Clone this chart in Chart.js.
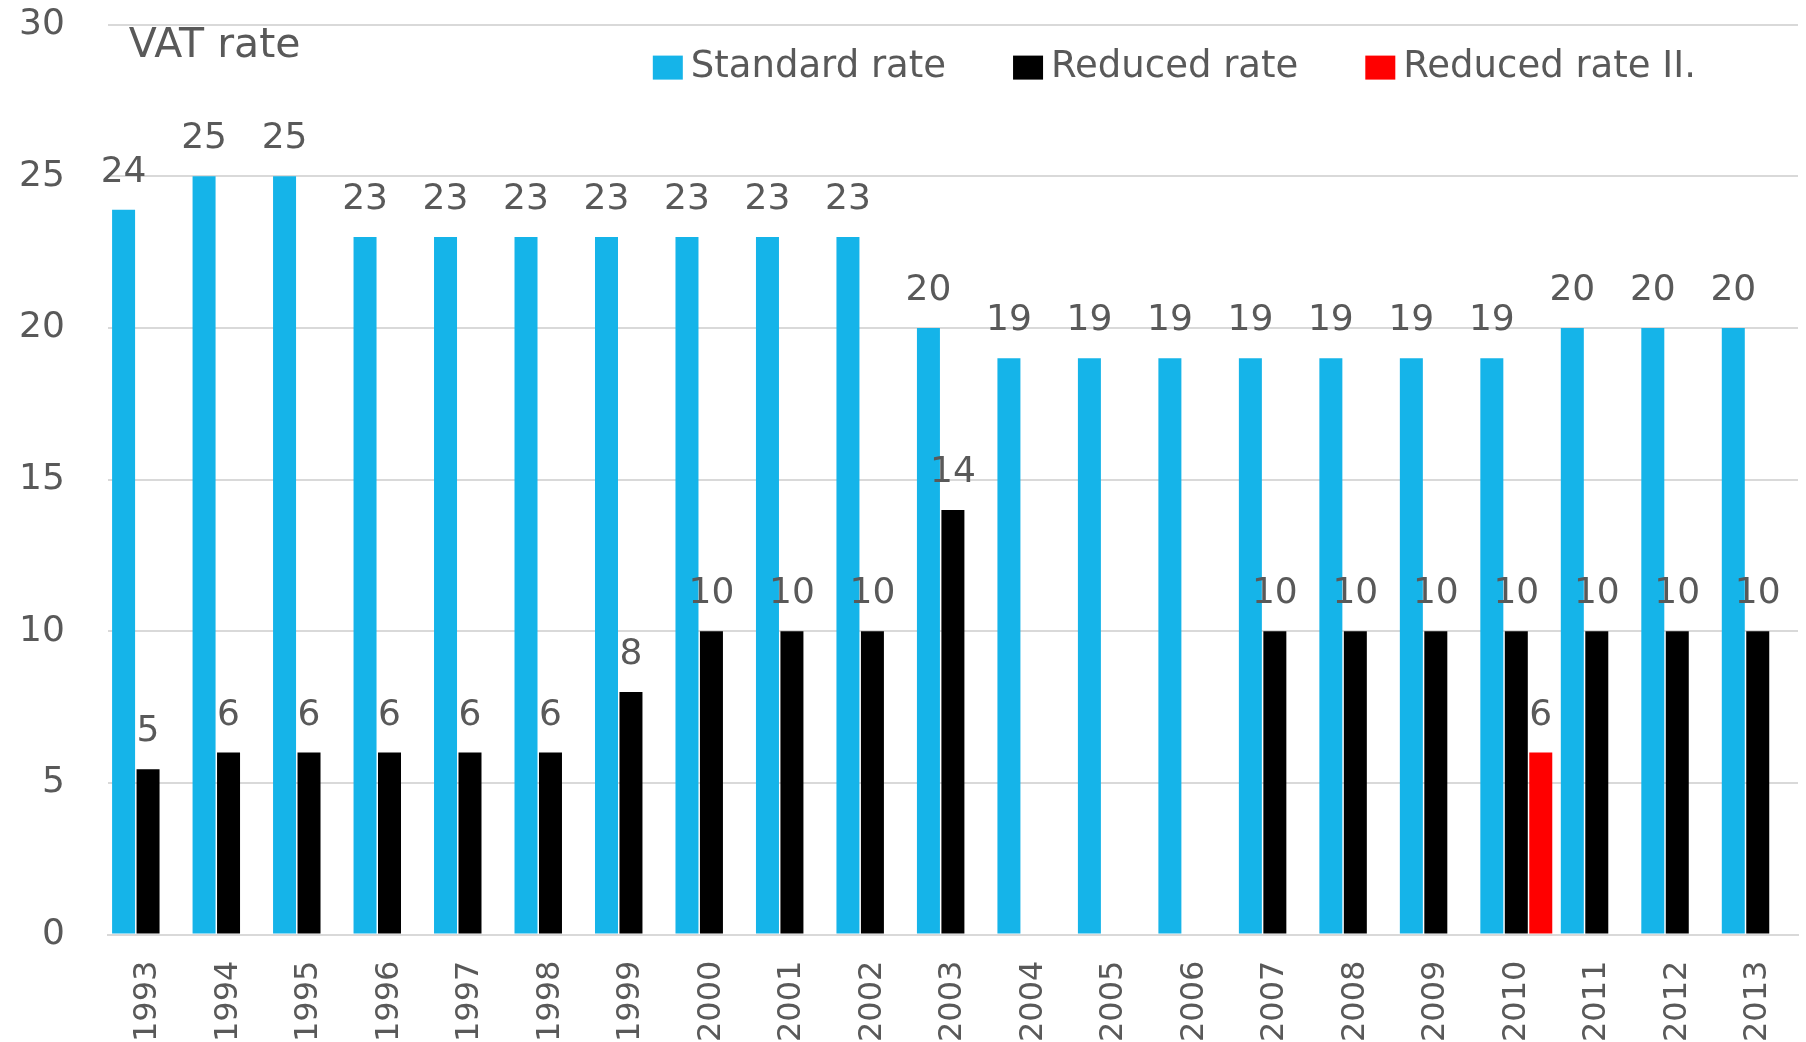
<!DOCTYPE html>
<html>
<head>
<meta charset="utf-8">
<title>VAT rate</title>
<script src="https://cdn.jsdelivr.net/npm/chart.js@4.4.1/dist/chart.umd.min.js"></script>
<style>
  html, body { margin: 0; padding: 0; background: #fff; overflow: hidden; }
</style>
</head>
<body>
<canvas id="vat-chart" width="1806" height="1042"></canvas>
<script>
// years on the x axis
const years = ["1993", "1994", "1995", "1996", "1997", "1998", "1999", "2000", "2001", "2002",
               "2003", "2004", "2005", "2006", "2007", "2008", "2009", "2010", "2011", "2012", "2013"];

// rates (null = no bar that year)
const standardRate = [23.9, 25, 25, 23, 23, 23, 23, 23, 23, 23, 20, 19, 19, 19, 19, 19, 19, 19, 20, 20, 20];
const reducedRate = [5.45, 6, 6, 6, 6, 6, 8, 10, 10, 10, 14, null, null, null, 10, 10, 10, 10, 10, 10, 10];
const reducedRate2 = [null, null, null, null, null, null, null, null, null, null, null,
                      null, null, null, null, null, null, 6, null, null, null];

const yTicks = [0, 5, 10, 15, 20, 25, 30];

const textGray = "#595959";
const gridGray = "#d9d9d9";
const fontName = "'DejaVu Sans', sans-serif";

//value labels above each bar, the "VAT rate" title and the legend inside the plot
const overlayPlugin = {
    id: "overlay",
    afterDatasetsDraw(chart) {
        const ctx = chart.ctx;
        const area = chart.chartArea;
        ctx.save();

        //numbers above the bars
        ctx.fillStyle = textGray;
        ctx.font = "36px " + fontName;
        ctx.textAlign = "center";
        ctx.textBaseline = "alphabetic";
        chart.data.datasets.forEach((ds, i) => {
            const meta = chart.getDatasetMeta(i);
            meta.data.forEach((bar, j) => {
                const v = ds.data[j];
                if (v === null || v === undefined) return;
                ctx.fillText(Math.round(v), bar.x, bar.y - 28);
            });
        });

        //axis title in the top left corner
        ctx.textAlign = "left";
        ctx.textBaseline = "top";
        ctx.font = "41px " + fontName;
        ctx.fillText("VAT rate", area.left + 21, area.top + 1);

        //legend
        ctx.font = "37px " + fontName;
        ctx.textBaseline = "middle";
        let x = area.left + 545;
        const cy = area.top + 43;
        chart.data.datasets.forEach(ds => {
            ctx.fillStyle = ds.backgroundColor;
            ctx.fillRect(x, cy - 12, 30, 24);
            x += 38;
            ctx.fillStyle = textGray;
            ctx.fillText(ds.label, x, cy);
            x += ctx.measureText(ds.label).width + 67;
        });

        ctx.restore();
    }
};

new Chart("vat-chart", {
    type: "bar",
    data: {
        labels: years,
        datasets: [
            { label: "Standard rate", data: standardRate, backgroundColor: "#15b4e9" },
            { label: "Reduced rate", data: reducedRate, backgroundColor: "#000000" },
            { label: "Reduced rate II.", data: reducedRate2, backgroundColor: "#ff0000" }
        ]
    },
    options: {
        responsive: false,
        animation: false,
        devicePixelRatio: 1,
        categoryPercentage: 0.912,
        barPercentage: 0.94,
        layout: {
            padding: { left: 16, right: 8, top: 23, bottom: 0 }
        },
        plugins: {
            legend: { display: false },
            tooltip: { enabled: false }
        },
        scales: {
            x: {
                //tick marks are invisible, they only make the gap under the axis
                grid: { display: true, drawOnChartArea: false, drawTicks: true, tickLength: 26, tickColor: "rgba(0,0,0,0)" },
                border: { display: true, color: gridGray, width: 2 },
                ticks: {
                    color: textGray,
                    font: { family: fontName, size: 32 },
                    minRotation: 90,
                    maxRotation: 90,
                    autoSkip: false,
                    padding: 0
                }
            },
            y: {
                min: 0,
                max: 30,
                afterBuildTicks: axis => { axis.ticks = yTicks.map(v => ({ value: v })); },
                grid: { color: gridGray, lineWidth: 2, drawTicks: true, tickLength: 40, tickColor: "rgba(0,0,0,0)" },
                border: { display: false },
                ticks: {
                    color: textGray,
                    font: { family: fontName, size: 36 },
                    padding: 3
                }
            }
        }
    },
    plugins: [overlayPlugin]
});
</script>
</body>
</html>
